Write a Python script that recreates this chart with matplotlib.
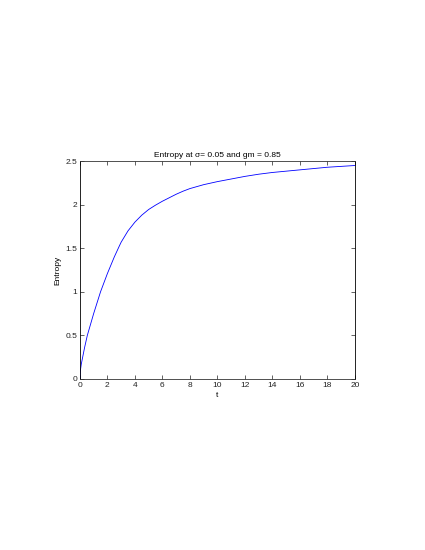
import matplotlib
matplotlib.use('Agg')
import matplotlib.pyplot as plt

# values
t = [0, 0.03, 0.1, 0.34, 0.54, 1.0, 1.5, 2.0, 2.5, 2.85, 3.0, 3.5, 4.0, 4.5,
     5.0, 5.5, 6.0, 6.5, 7.0, 7.5, 8.0, 9.0, 10.0, 11.0, 12.0, 13.0, 14.0,
     15.0, 16.0, 17.0, 18.0, 19.0, 20.0]
entropy = [0, 0.09, 0.17, 0.36, 0.5, 0.75, 1.0, 1.21, 1.40, 1.52, 1.57, 1.70, 1.80, 1.88,
           1.945, 1.995, 2.04, 2.08, 2.12, 2.155, 2.185, 2.23, 2.265, 2.295, 2.325, 2.35, 2.37,
           2.385, 2.40, 2.415, 2.43, 2.44, 2.45]

xticks = [0, 2, 4, 6, 8, 10, 12, 14, 16, 18, 20]
yticks = [0, 0.5, 1, 1.5, 2, 2.5]

plt.rcParams['font.family'] = ['Liberation Sans', 'DejaVu Sans']

fig = plt.figure(figsize=(4.25, 5.5), dpi=100)
ax = fig.add_axes([0.188, 0.311, 0.647, 0.396])

ax.plot(t, entropy, color='#0000ff', linewidth=0.6)

ax.set_xlim(0, 20)
ax.set_ylim(0, 2.5)
ax.set_xticks(xticks)
ax.set_yticks(yticks)
ax.set_xticklabels([str(v) for v in xticks])
ax.set_yticklabels(['0', '0.5', '1', '1.5', '2', '2.5'])
ax.tick_params(direction='in', top=True, right=True, length=3, width=0.5,
               labelsize=6, pad=2, colors='#222222')
for s in ax.spines.values():
    s.set_linewidth(0.6)
    s.set_color('#333333')
ax.spines['left'].set_color('black')
ax.spines['right'].set_color('black')

ax.set_title('Entropy at σ= 0.05 and gm = 0.85', fontsize=6, pad=3)
ax.set_xlabel('t', fontsize=6, labelpad=2)
ax.set_ylabel('Entropy', fontsize=6, labelpad=3)

fig.savefig('out.png', dpi=100)
